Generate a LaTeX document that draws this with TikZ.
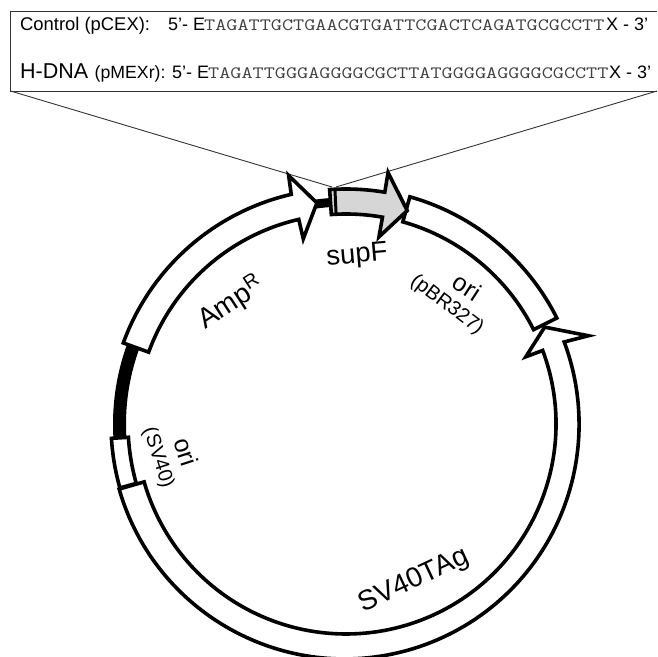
\documentclass[tikz,border=0pt]{standalone}
\usepackage{fontspec}
\setmainfont{Liberation Sans}
\newcommand{\fsz}[1]{\fontsize{#1}{#1}\selectfont}
% white stretch of the ring: start angle, end angle, inner and outer radius
\newcommand{\ringbox}[4]{\draw[ring] (#1:#4) arc[start angle=#1,end angle=#2,radius=#4] -- (#2:#3) arc[start angle=#2,end angle=#1,radius=#3] -- cycle;}
\newcommand{\seqtext}[1]{\scalebox{1.248}[1]{\fsz{17.3}\ttfamily #1}}
\tikzset{
	ring/.style={draw=black,line width=3.6pt,line join=miter,fill=white},
	seq/.style={text=black!75,inner sep=0pt,anchor=base west},
	txt/.style={font=\fsz{18},inner sep=0pt,anchor=base west},
	callout/.style={draw=black!80,line width=0.9pt},
	plasmid/.style={font=\fsz{25},inner sep=0pt},
	small/.style={font=\fsz{20},inner sep=0pt}
}
\begin{document}
\begin{tikzpicture}[x=1pt,y=1pt]
	\useasboundingbox (0,0) rectangle (657,657);
	\coordinate (C) at (346,233);
	\coordinate (tipS) at (332,470);
	\coordinate (tipE) at (336,470);
	\coordinate (boxSW) at (10.5,566);
	\coordinate (boxSE) at (657,566);
	\coordinate (boxNW) at (10.5,646);
	\coordinate (boxNE) at (657,646);
	\draw[callout] (boxSW) -- (tipS) (tipE) -- (boxSE);
	\draw[callout] (boxNE) -- (boxNW) -- (boxSW) -- (boxSE);
	\node[txt,font=\fsz{18.4}] (ctrl) at (20,626) {Control (pCEX):};
	\node[txt] (ctrlA) at (168,626) {5'- E};
	\node[seq] (ctrlS) at (204,626) {\seqtext{TAGATTGCTGAACGTGATTCGACTCAGATGCGCCTT}};
	\node[txt] (ctrlB) at (606,626) {X - 3'};
	\node[txt,font=\fsz{21.5}] (hdna) at (20,578) {H-DNA};
	\node[txt,font=\fsz{17.7}] (hdnaP) at (94.5,578) {(pMEXr):};
	\node[txt] (hdnaA) at (172,578) {5'- E};
	\node[seq] (hdnaS) at (208,578) {\seqtext{TAGATTGGGAGGGGCGCTTATGGGGAGGGGCGCCTT}};
	\node[txt] (hdnaB) at (609,578) {X - 3'};
	\begin{scope}[shift={(C)}]
		% black stretches
		\draw[line width=13pt] (160:226.5) arc[start angle=160,end angle=184,radius=226.5];
		\draw[line width=9pt] (98:222) arc[start angle=98,end angle=93,radius=222];
		% SV40TAg
		\draw[ring] (196:236) arc[start angle=196,end angle=340,radius=234.5] arc[start angle=-20,end angle=20.5,radius=235]
			-- (20:258) -- (26:221) -- (20.5:192) -- (20.5:210)
			arc[start angle=20.5,end angle=-164,radius=210] -- cycle;
		% ori SV40
		\ringbox{183.5}{195.8}{218}{235}
		% AmpR
		\draw[ring] (160:237) arc[start angle=160,end angle=103,radius=235]
			-- (103:255) -- (97.5:223) -- (103:190) -- (103:210)
			arc[start angle=103,end angle=160,radius=210] -- cycle;
		% ori pBR327
		\ringbox{74.3}{26.7}{210}{236}
		% supF
		\draw[ring,fill=black!16] (94:235) arc[start angle=94,end angle=80.5,radius=235]
			-- (80.5:255) -- (74:222) -- (80:190) -- (80:210)
			arc[start angle=80,end angle=94,radius=210] -- cycle;
		\draw[line width=3pt] (92.7:235) -- (92.7:210);
	\end{scope}
	\node[plasmid,font=\fsz{27.5},rotate=5] (supF) at (357,401) {supF};
	\node[plasmid,font=\fsz{28},rotate=33] (amp) at (231,354) {Amp$^{\mathrm{R}}$};
	\node[plasmid,rotate=-33] (oriA) at (467,370) {ori};
	\node[small,rotate=-37] (pbr) at (447,352) {(pBR327)};
	\node[plasmid,rotate=-72] (oriB) at (186,205) {ori};
	\node[small,rotate=-72] (sv) at (158,199) {(SV40)};
	\node[plasmid,font=\fsz{28},rotate=25] (tag) at (414,76) {SV40TAg};
\end{tikzpicture}
\end{document}
